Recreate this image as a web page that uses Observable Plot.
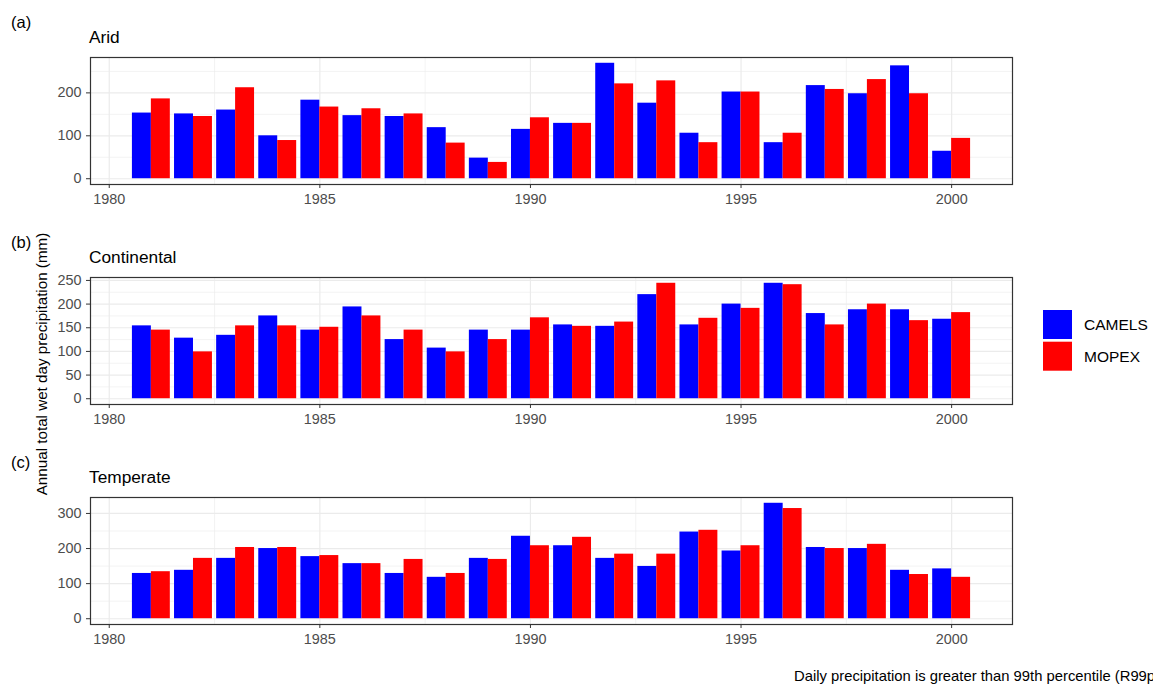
<!DOCTYPE html>
<html><head><meta charset="utf-8">
<script src="https://cdn.jsdelivr.net/npm/d3@7"></script>
<script src="https://cdn.jsdelivr.net/npm/@observablehq/plot@0.6"></script>
<style>
html,body{margin:0;padding:0;background:#fff;overflow:hidden;}
#root{position:relative;width:1153px;height:684px;overflow:hidden;font-family:"Liberation Sans",Arial,sans-serif;}
#root > svg, #root > div{position:absolute;}
</style></head><body><div id="root"></div>
<script>
const years = [1981,1982,1983,1984,1985,1986,1987,1988,1989,1990,1991,1992,1993,1994,1995,1996,1997,1998,1999,2000];
const seriesNames = ["CAMELS", "MOPEX"];
const seriesColors = ["#0000FF", "#FF0000"];

const aridCAMELS = [153,151,160,100,183,147,145,119,48,115,129,269,176,106,202,84,217,198,263,64];
const aridMOPEX  = [186,145,212,89,167,163,151,83,38,142,129,221,228,84,202,106,208,231,198,94];
const contCAMELS = [154,128,134,175,145,194,125,107,145,145,156,153,220,156,200,244,180,188,188,168];
const contMOPEX  = [145,99,154,154,151,175,145,99,125,171,153,162,244,170,191,241,156,200,165,182];
const tempCAMELS = [129,138,172,200,177,157,129,118,172,235,208,172,149,247,193,329,203,200,138,142];
const tempMOPEX  = [134,172,203,203,180,157,169,129,169,208,232,184,184,252,208,314,200,212,126,118];

const xTicks = [1980,1985,1990,1995,2000];
const xMinor = [1982.5,1987.5,1992.5,1997.5];
const yTicksA = [0,100,200], yMinorA = [50,150,250];
const yTicksB = [0,50,100,150,200,250], yMinorB = [25,75,125,175,225];
const yTicksC = [0,100,200,300], yMinorC = [50,150,250];

const panelLetters = ["(a)", "(b)", "(c)"];
const panelTitles = ["Arid", "Continental", "Temperate"];
const yTitle = "Annual total wet day precipitation (mm)";
const caption = "Daily precipitation is greater than 99th percentile (R99p)";

const root = document.getElementById("root");
const FONT = '"Liberation Sans", Arial, sans-serif';
const halfW = 0.45;
const lo = d3.min(years) - halfW, hi = d3.max(years) + halfW;
const xDomain = [lo - 0.05 * (hi - lo), hi + 0.05 * (hi - lo)];
const frameH = 127, mTop = 10, mBottom = 32;

function panel(camels, mopex, yTicks, yMinor, frameTop) {
  const rows = years.flatMap((yr, i) => [
    {year: yr, series: seriesNames[0], value: camels[i]},
    {year: yr, series: seriesNames[1], value: mopex[i]}
  ]);
  const maxV = d3.max(rows, d => d.value);
  const chart = Plot.plot({
    width: 1153, height: frameH + mTop + mBottom,
    marginTop: mTop, marginBottom: mBottom, marginLeft: 90, marginRight: 141,
    x: {domain: xDomain, label: null},
    y: {domain: [-0.05 * maxV, 1.05 * maxV], label: null},
    color: {domain: seriesNames, range: seriesColors},
    style: {fontFamily: FONT, fontSize: "14.4px", background: "transparent"},
    marks: [
      Plot.gridY(yMinor, {stroke: "#EBEBEB", strokeOpacity: 1, strokeWidth: 0.6}),
      Plot.gridX(xMinor, {stroke: "#EBEBEB", strokeOpacity: 1, strokeWidth: 0.6}),
      Plot.gridY(yTicks, {stroke: "#EBEBEB", strokeOpacity: 1, strokeWidth: 1.2}),
      Plot.gridX(xTicks, {stroke: "#EBEBEB", strokeOpacity: 1, strokeWidth: 1.2}),
      Plot.rect(rows, {
        x1: d => d.series === seriesNames[0] ? d.year - halfW : d.year,
        x2: d => d.series === seriesNames[0] ? d.year : d.year + halfW,
        y1: 0, y2: "value", fill: "series"
      }),
      Plot.frame({stroke: "#333333", strokeWidth: 1.2}),
      Plot.axisX(xTicks, {tickSize: 4, tickPadding: 5, tickFormat: "d", stroke: "#333333", fill: "#4D4D4D", label: null}),
      Plot.axisY(yTicks, {tickSize: 4, tickPadding: 5, tickFormat: "d", stroke: "#333333", fill: "#4D4D4D", label: null})
    ]
  });
  chart.style.left = "0px";
  chart.style.top = (frameTop - mTop) + "px";
  root.appendChild(chart);
}

panel(aridCAMELS, aridMOPEX, yTicksA, yMinorA, 57);
panel(contCAMELS, contMOPEX, yTicksB, yMinorB, 277);
panel(tempCAMELS, tempMOPEX, yTicksC, yMinorC, 497);

// Annotation layer: panel letters, titles, y title, legend, caption
const svg = d3.create("svg").attr("width", 1153).attr("height", 684)
  .style("left", "0px").style("top", "0px").style("font-family", FONT);
panelLetters.forEach((t, i) => {
  svg.append("text").attr("x", 11).attr("y", 28 + 220 * i).attr("font-size", 16.5).attr("fill", "#000").text(t);
  svg.append("text").attr("x", 89).attr("y", 43.3 + 220 * i).attr("font-size", 17.3).attr("fill", "#000").text(panelTitles[i]);
});
svg.append("text").attr("transform", "translate(47,364) rotate(-90)").attr("text-anchor", "middle")
  .attr("font-size", 15.2).attr("fill", "#000").text(yTitle);
seriesNames.forEach((s, i) => {
  const y0 = 310 + i * 31.7;
  svg.append("rect").attr("x", 1043).attr("y", y0).attr("width", 29).attr("height", 29).attr("fill", seriesColors[i]);
  svg.append("text").attr("x", 1084).attr("y", y0 + 14.5).attr("dy", "0.36em").attr("font-size", 15.5).attr("fill", "#000").text(s);
});
svg.append("text").attr("x", 794).attr("y", 681).attr("font-size", 14.8).attr("fill", "#000").text(caption);
root.appendChild(svg.node());
</script>
</body></html>
